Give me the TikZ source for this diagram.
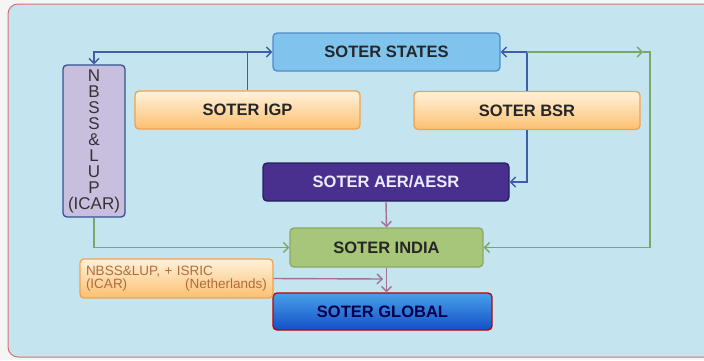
\documentclass[tikz,border=0pt]{standalone}
\usepackage{fontspec}
\setmainfont{Liberation Sans}
\usepackage{tikz}
\usetikzlibrary{arrows.meta}
\usepackage{xcolor}
\definecolor{panel}{RGB}{196,229,240}
\definecolor{frame}{RGB}{214,112,112}
\definecolor{bline}{RGB}{62,94,166}
\definecolor{gline}{RGB}{120,168,104}
\definecolor{mline}{RGB}{164,112,146}
\definecolor{orgborder}{RGB}{240,162,82}
\definecolor{orgtop}{RGB}{255,242,220}
\definecolor{orgbot}{RGB}{252,192,112}
\definecolor{statesfill}{RGB}{128,196,238}
\definecolor{statesdraw}{RGB}{80,140,200}
\definecolor{nbssfill}{RGB}{200,190,222}
\definecolor{aerfill}{RGB}{74,48,142}
\definecolor{aerdraw}{RGB}{40,30,100}
\definecolor{indiafill}{RGB}{168,198,122}
\definecolor{indiadraw}{RGB}{138,168,98}
\definecolor{globtop}{RGB}{72,160,232}
\definecolor{globbot}{RGB}{20,80,200}
\definecolor{ncaptext}{RGB}{176,108,58}

\begin{document}
\begin{tikzpicture}[x=1pt,y=-1pt,
  >={Straight Barb[length=5pt,width=10pt]},
  box/.style={rounded corners=4pt,line width=1.3pt,minimum height=38pt,
    inner sep=0pt,font=\fontsize{16.5}{18}\selectfont\bfseries,text=black!85},
  orgbox/.style={box,draw=orgborder,top color=orgtop,bottom color=orgbot},
  bl/.style={bline,line width=1.4pt},
  gl/.style={gline,line width=1.4pt},
  ml/.style={mline,line width=1.4pt}]
\useasboundingbox (0,0) rectangle (704,360);
\fill[black!4] (0,0) rectangle (704,360);
\draw[frame,fill=panel,line width=1pt,rounded corners=10pt] (8,4) rectangle (730,357);

% boxes
\node[box,draw=statesdraw,fill=statesfill,minimum width=227pt] (states) at (386.5,52) {SOTER STATES};
\node[orgbox,minimum width=225pt] (igp) at (247.5,110) {SOTER IGP};
\node[orgbox,minimum width=226pt] (bsr) at (527,110.5) {SOTER BSR};
\node[box,draw=bline!85!black,fill=nbssfill,minimum width=62pt,minimum height=152pt,
  align=center,font=\fontsize{17}{16}\selectfont,text=black!80] (nbss) at (94,141)
  {N\\B\\S\\S\\\&\\L\\U\\P\\(ICAR)};
\node[box,draw=aerdraw,fill=aerfill,text=white!92!blue,minimum width=246pt] (aer) at (386,182) {SOTER AER/AESR};
\node[box,draw=indiadraw,fill=indiafill,minimum width=193pt,minimum height=39pt] (india) at (386.5,247.5) {SOTER INDIA};
\node[box,draw=red!75!black,top color=globtop,bottom color=globbot,
  minimum width=219pt,minimum height=37pt,text=blue!30!black] (global) at (382.5,311.5) {SOTER GLOBAL};
\node[orgbox,minimum width=193pt,minimum height=39pt,align=left,text width=181pt,
  font=\fontsize{13.5}{13}\selectfont,text=ncaptext] (ncap) at (176.5,278.5)
  {NBSS\&LUP, + ISRIC\\(ICAR)\hfill(Netherlands)};

% connectors
\draw[bl,->] (igp.north) |- (states.west);
\draw[bl,->] (igp.north |- states.west) -| (nbss.north);
\draw[bl,->] (bsr.north) |- (states.east);
\draw[bl,->] (bsr.south) |- (aer.east);
\coordinate (gtip) at (643,52);
\coordinate (gcorner) at (650,52);
\draw[gl,->] (bsr.north |- states.east) -- (gtip);
\draw[gl,->] (gtip) -- (gcorner) |- (india.east);
\draw[gl,->] (nbss.south) |- (india.west);
\draw[ml,->] (aer.south) -- (india.north);
\draw[ml,->] (india.south) -- (india.south |- global.north);
\coordinate (mtip) at (383,279);
\draw[ml,->] (ncap.east) -- (mtip);
\end{tikzpicture}
\end{document}
